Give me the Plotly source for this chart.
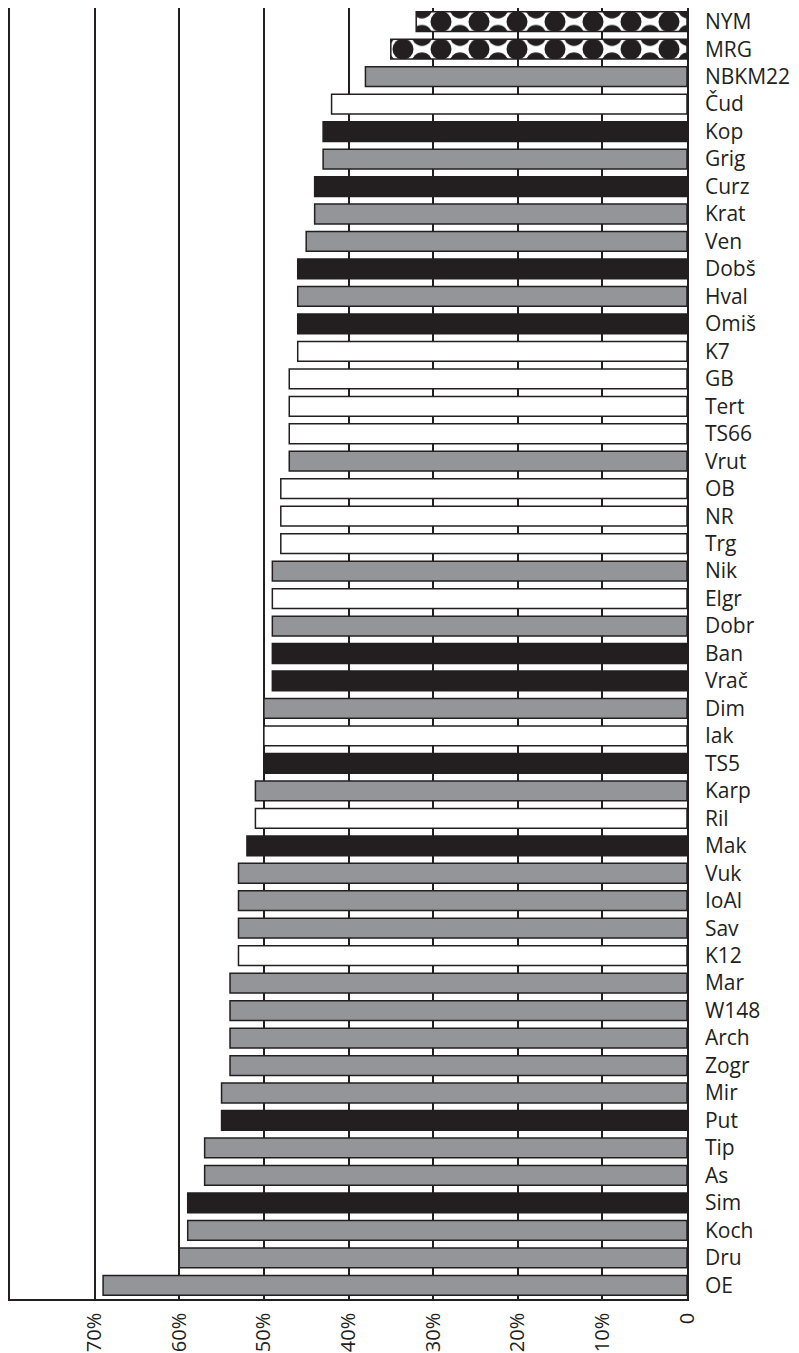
import plotly.graph_objects as go

categories = ["NYM", "MRG", "NBKM22", "Čud", "Kop", "Grig", "Curz", "Krat", "Ven", "Dobš",
              "Hval", "Omiš", "K7", "GB", "Tert", "TS66", "Vrut", "OB", "NR", "Trg",
              "Nik", "Elgr", "Dobr", "Ban", "Vrač", "Dim", "Iak", "TS5", "Karp", "Ril",
              "Mak", "Vuk", "IoAl", "Sav", "K12", "Mar", "W148", "Arch", "Zogr", "Mir",
              "Put", "Tip", "As", "Sim", "Koch", "Dru", "OE"]
values = [32, 35, 38, 42, 43, 43, 44, 44, 45, 46,
          46, 46, 46, 47, 47, 47, 47, 48, 48, 48,
          49, 49, 49, 49, 49, 50, 50, 50, 51, 51,
          52, 53, 53, 53, 53, 54, 54, 54, 54, 55,
          55, 57, 57, 59, 59, 60, 69]
styles = ["pattern", "pattern", "grey", "white", "black", "grey", "black", "grey", "grey", "black",
          "grey", "black", "white", "white", "white", "white", "grey", "white", "white", "white",
          "grey", "white", "grey", "black", "black", "grey", "white", "black", "grey", "white",
          "black", "grey", "grey", "grey", "white", "grey", "grey", "grey", "grey", "grey",
          "black", "grey", "grey", "black", "grey", "grey", "grey"]
tick_values = [0, 10, 20, 30, 40, 50, 60, 70]
tick_labels = ["0", "10%", "20%", "30%", "40%", "50%", "60%", "70%"]

INK = "#231f20"
palette = {"grey": "#939598", "black": INK, "white": "#ffffff", "pattern": "#ffffff"}
FONT = "Open Sans"

fig = go.Figure()
for style in ["grey", "black", "white", "pattern"]:
    ys = [c for c, s in zip(categories, styles) if s == style]
    xs = [v for v, s in zip(values, styles) if s == style]
    marker = dict(color=palette[style], line=dict(color=INK, width=1.5))
    if style == "pattern":
        marker["pattern"] = dict(shape=".", fgcolor=INK, bgcolor="#ffffff",
                                 fillmode="replace", fgopacity=1,
                                 size=38, solidity=0.24)
    fig.add_trace(go.Bar(x=xs, y=ys, orientation="h", width=0.72,
                         marker=marker, hoverinfo="skip", name=style))

fig.update_layout(
    width=799,
    height=1353,
    margin=dict(l=10, r=112, t=8, b=54),
    paper_bgcolor="white",
    plot_bgcolor="white",
    showlegend=False,
    barmode="overlay",
    font=dict(family=FONT, color=INK, size=21),
)

fig.update_xaxes(
    range=[80, 0],
    tickvals=tick_values,
    ticktext=tick_labels,
    tickangle=-90,
    showgrid=True,
    gridcolor=INK,
    gridwidth=1.5,
    zeroline=False,
    showline=True,
    linecolor=INK,
    linewidth=1.5,
    ticks="",
    automargin=False,
    ticklabelstandoff=4,
    tickfont=dict(family=FONT, size=20, color=INK),
)

fig.update_yaxes(
    type="category",
    categoryorder="array",
    categoryarray=categories,
    range=[len(categories) - 0.5, -0.5],
    side="right",
    showgrid=False,
    showline=True,
    mirror=True,
    linecolor=INK,
    linewidth=1.5,
    ticks="",
    automargin=False,
    ticklabelstandoff=12,
    tickfont=dict(family=FONT, size=21, color=INK),
)

post = """
document.body.style.margin = '0';
var gd = document.getElementById('{plot_id}');
var H = gd._fullLayout._size.h / %d;
var W = 38;
document.querySelectorAll('pattern').forEach(function(p){
  var c = p.querySelector('circle');
  if(!c) return;
  p.setAttribute('width', W);
  p.setAttribute('height', H);
  p.setAttribute('x', -6);
  p.setAttribute('y', 0);
  p.querySelectorAll('rect').forEach(function(r){ r.setAttribute('width', W); r.setAttribute('height', H); });
  c.setAttribute('cx', W/2); c.setAttribute('cy', H/2); c.setAttribute('r', 10.5);
  [[0,0],[W,0],[0,H],[W,H]].forEach(function(xy){
    var n = c.cloneNode();
    n.setAttribute('cx', xy[0]); n.setAttribute('cy', xy[1]);
    p.appendChild(n);
  });
});
""" % len(categories)

fig.write_html("out.html", post_script=post, config={"displayModeBar": False})
